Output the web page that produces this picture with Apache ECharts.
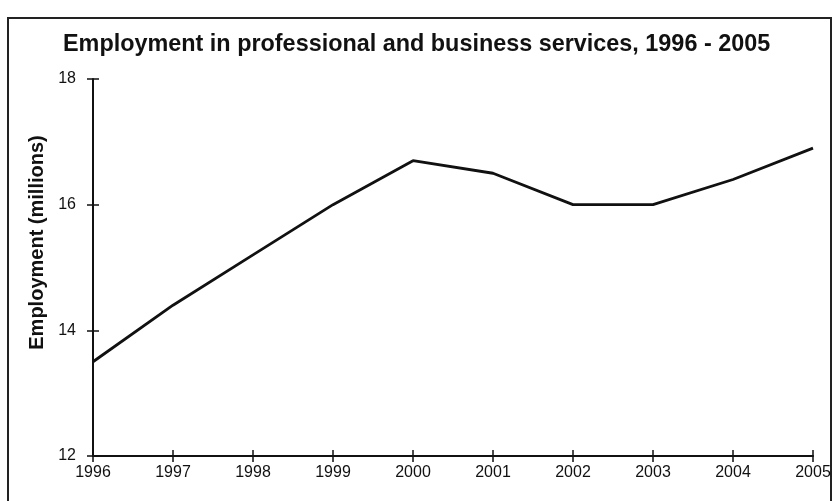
<!DOCTYPE html>
<html>
<head>
<meta charset="utf-8">
<script src="https://cdn.jsdelivr.net/npm/echarts@6/dist/echarts.min.js"></script>
<style>
  html, body { margin: 0; padding: 0; background: #fff; }
  #main { width: 835px; height: 501px; }
</style>
</head>
<body>
<div id="main"></div>
<script>
var years = ['1996', '1997', '1998', '1999', '2000', '2001', '2002', '2003', '2004', '2005'];
var employment = [13.5, 14.4, 15.2, 16.0, 16.7, 16.5, 16.0, 16.0, 16.4, 16.9];

var chart = echarts.init(document.getElementById('main'));
var font = 'Liberation Sans, Arial, sans-serif';

var option = {
  backgroundColor: '#fff',
  animation: false,
  title: {
    text: 'Employment in professional and business services, 1996 - 2005',
    left: 58,
    top: 28,
    textStyle: { fontFamily: font, fontSize: 23.4, fontWeight: 'bold', color: '#111' }
  },
  graphic: [{
    type: 'rect',
    shape: { x: 8, y: 18, width: 823, height: 500 },
    style: { fill: 'none', stroke: '#222', lineWidth: 2 }
  }],
  grid: { left: 93, right: 22, top: 79, bottom: 45 },
  xAxis: [{
    type: 'category',
    data: years,
    boundaryGap: false,
    axisLine: { lineStyle: { color: '#111', width: 2 } },
    axisTick: { length: 6, lineStyle: { color: '#111', width: 1.5 } },
    axisLabel: { margin: 9, fontFamily: font, fontSize: 16, color: '#111' },
    splitLine: { show: false }
  }, {
    type: 'category',
    data: years,
    position: 'bottom',
    boundaryGap: false,
    axisLine: { show: false },
    axisTick: { inside: true, length: 6, lineStyle: { color: '#111', width: 1.5 } },
    axisLabel: { show: false }
  }],
  yAxis: [{
    type: 'value',
    min: 12,
    max: 18,
    interval: 2,
    name: 'Employment (millions)',
    nameLocation: 'middle',
    nameGap: 46,
    nameTextStyle: { fontFamily: font, fontSize: 20, fontWeight: 'bold', color: '#111', padding: [0, 0, 0, 50] },
    axisLine: { show: true, lineStyle: { color: '#111', width: 2 } },
    axisTick: { show: true, length: 6, lineStyle: { color: '#111', width: 1.5 } },
    axisLabel: { margin: 17, fontFamily: font, fontSize: 16, color: '#111' },
    splitLine: { show: false }
  }, {
    type: 'value',
    min: 12,
    max: 18,
    interval: 2,
    position: 'left',
    axisLine: { show: false },
    axisTick: { show: true, inside: true, length: 6, lineStyle: { color: '#111', width: 1.5 } },
    axisLabel: { show: false },
    splitLine: { show: false }
  }],
  series: [{
    type: 'line',
    data: employment,
    showSymbol: false,
    lineStyle: { color: '#111', width: 2.8 }
  }]
};

chart.setOption(option);
window.onresize = function () {
  chart.resize();
};
</script>
</body>
</html>
